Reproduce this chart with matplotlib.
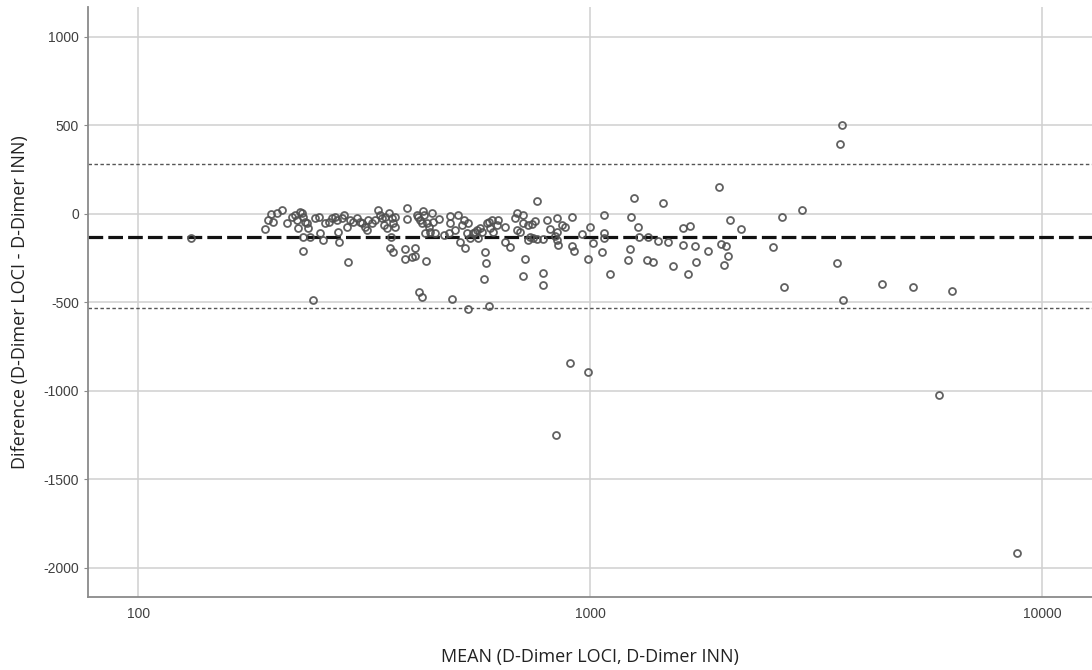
import matplotlib
matplotlib.use("Agg")
import matplotlib.pyplot as plt
from matplotlib.ticker import FixedLocator, FixedFormatter, NullLocator

plt.rcParams["axes.unicode_minus"] = False

# data
mean_vals = [
    131, 191, 194, 197, 199, 203, 208, 213,
    219, 222, 225, 228, 230, 232, 234, 236, 226, 232, 238, 240, 246, 251, 253, 257,
    259, 264, 268, 272, 275, 277, 278, 282, 286, 290, 291, 294, 299, 305, 310, 313,
    318, 321, 323, 329, 334, 339, 343, 346, 349, 352, 355, 358, 361, 363, 367, 232, 244,
    364, 367, 370, 370, 390, 390, 393, 394, 403, 410, 410, 414, 417, 421, 424, 426,
    428, 431, 434, 435, 439, 443, 446, 450, 454, 462, 474, 486, 490, 490, 494, 503,
    511, 516, 520, 525, 529, 533, 538, 543, 552, 557, 561, 566, 571, 576, 586, 588,
    583, 591, 596, 601, 606, 611, 622, 627, 419, 424, 538, 596,
    649, 649, 665, 682, 688, 688, 700, 712, 712, 718, 712, 730, 730, 737, 743, 749,
    756, 762, 762, 788, 788, 788, 802, 816, 837, 844, 844, 844, 851, 866, 880, 911,
    911, 919, 959, 991, 1000, 1017, 1061, 1071,
    841, 903, 991,
    1071, 1071, 1108, 1216, 1226, 1230, 1251, 1279, 1285, 1334, 1346, 1380, 1416, 1453,
    1490, 1528, 1603, 1603, 1649, 1663, 1706, 1715, 1826,
    1932, 1953, 1996, 2020, 1977, 2036, 2162, 2536, 2655, 2690, 2938,
    3606, 3565, 3526, 3622, 4418, 5188, 6310,
    5916, 8813,
]
diff_vals = [
    -136, -86, -34, -2, -44, 7, 23, -49,
    -15, -6, -34, 13, 4, -15, -43, -53, -81, -128, -81, -128, -24, -15, -109, -147,
    -53, -43, -24, -15, -34, -100, -156, -24, -6, -72, -269, -34, -43, -24, -43, -53,
    -72, -90, -34, -53, -34, 23, -6, -24, -62, -15, -81, 4, -194, -128, -213, -209, -486,
    -24, -53, -15, -72, -198, -256, -30, 36, -245, -194, -237, -6, -15, -34, -53, 19,
    -6, -109, -264, -53, -72, -100, 4, -43, -109, -30, -119, -109, -11, -53, -482, -90,
    -6, -156, -62, -34, -194, -109, -53, -137, -109, -100, -90, -137, -81, -100, -218, -279,
    -367, -53, -43, -81, -34, -100, -62, -34, -439, -467, -539, -520,
    -72, -156, -185, -24, 4, -90, -105, -6, -49, -254, -350, -62, -147, -128, -57, -137,
    -38, 73, -143, -143, -335, -401, -34, -87, -124, -100, -147, -21, -175, -62, -75, -15,
    -181, -207, -113, -256, -72, -162, -213, -109,
    -1249, -840, -893,
    -6, -137, -339, -260, -200, -15, 92, -75, -132, -260, -132, -269, -151, 60,
    -160, -294, -81, -175, -339, -68, -181, -273, -207,
    151, -171, -179, -237, -290, -34, -85, -185, -19, -411, 23,
    503, 396, -279, -486, -394, -414, -433,
    -1023, -1915,
]

mean_diff = -128
upper_loa = 281
lower_loa = -533

x_ticks = [100, 1000, 10000]
x_labels = ["100", "1000", "10000"]
y_ticks = [-2000, -1500, -1000, -500, 0, 500, 1000]

fig = plt.figure(figsize=(10.92, 6.70), dpi=100)
ax = fig.add_axes([0.0806, 0.109, 0.9194, 0.8806])

ax.set_xscale("log")
ax.set_xlim(77.4, 12910)
ax.set_ylim(-2164, 1169)

ax.grid(True, color="#d0d0d0", linewidth=1.1, zorder=0)
ax.set_axisbelow(True)

ax.axhline(upper_loa, color="#555555", linewidth=1.0, linestyle=(0, (2.5, 1.8)), zorder=2)
ax.axhline(lower_loa, color="#555555", linewidth=1.0, linestyle=(0, (2.5, 1.8)), zorder=2)
ax.axhline(mean_diff, color="#111111", linewidth=2.3, linestyle=(0, (4.6, 1.6)), zorder=2)

ax.plot(mean_vals, diff_vals, linestyle="none", marker="o", markersize=5,
        markerfacecolor="none", markeredgecolor="#505050", markeredgewidth=1.3,
        alpha=0.9, zorder=3)

ax.xaxis.set_major_locator(FixedLocator(x_ticks))
ax.xaxis.set_major_formatter(FixedFormatter(x_labels))
ax.xaxis.set_minor_locator(NullLocator())
ax.set_yticks(y_ticks)

for side in ["top", "right"]:
    ax.spines[side].set_visible(False)
for side in ["left", "bottom"]:
    ax.spines[side].set_color("#8a8a8a")
    ax.spines[side].set_linewidth(1.3)

ax.tick_params(axis="both", which="major", labelsize=10, labelcolor="#404040",
               color="#8a8a8a", length=3)
ax.tick_params(axis="x", length=0, pad=7)
for lab in ax.get_xticklabels() + ax.get_yticklabels():
    lab.set_family("Liberation Sans")

ax.set_xlabel("MEAN (D-Dimer LOCI, D-Dimer INN)", fontsize=13, family="Open Sans",
              color="#222222", labelpad=20)
ax.set_ylabel("Diference (D-Dimer LOCI - D-Dimer INN)", fontsize=13, family="Open Sans",
              color="#222222", labelpad=10)

fig.savefig("out.png", dpi=100)
